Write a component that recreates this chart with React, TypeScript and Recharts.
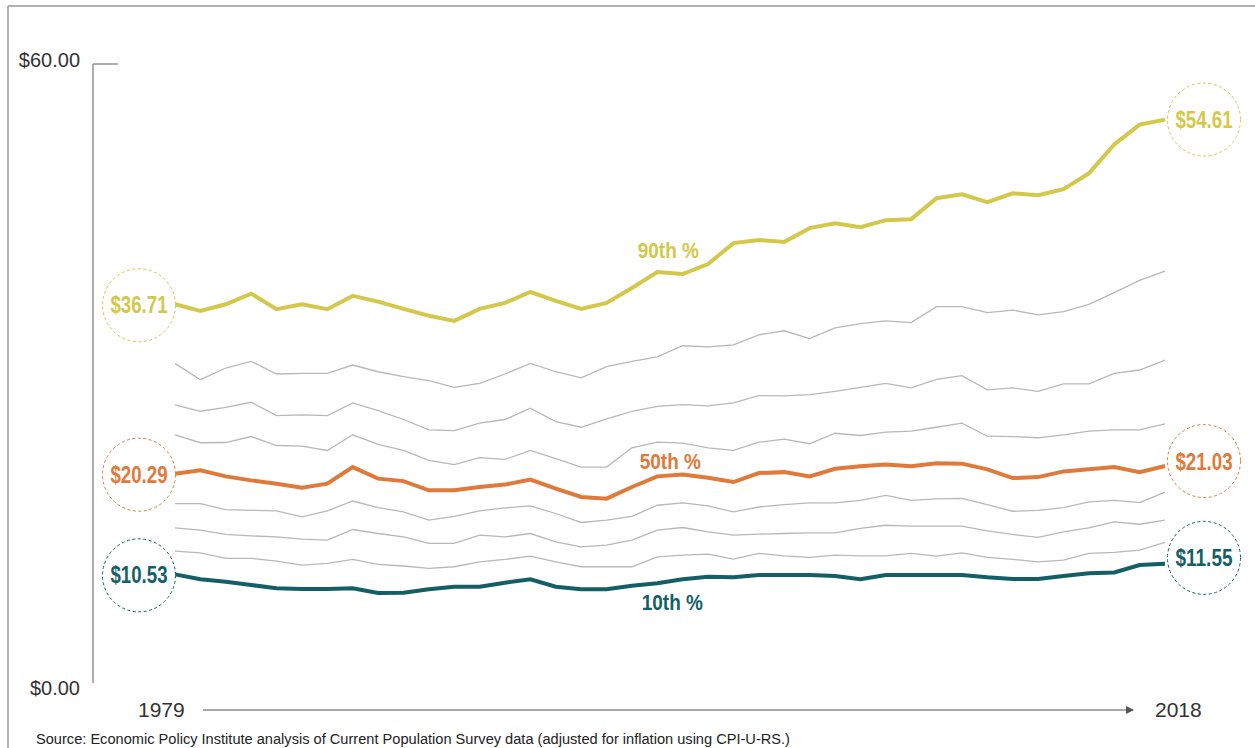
import { LineChart, Line, XAxis, YAxis } from "recharts";

const years = [
  1979, 1980, 1981, 1982, 1983, 1984, 1985, 1986, 1987, 1988,
  1989, 1990, 1991, 1992, 1993, 1994, 1995, 1996, 1997, 1998,
  1999, 2000, 2001, 2002, 2003, 2004, 2005, 2006, 2007, 2008,
  2009, 2010, 2011, 2012, 2013, 2014, 2015, 2016, 2017, 2018,
];

const p90 = [
  36.71, 36.07, 36.71, 37.74, 36.23, 36.71, 36.23, 37.52, 36.97, 36.26,
  35.6, 35.1, 36.26, 36.84, 37.9, 37.03, 36.26, 36.84, 38.29, 39.84,
  39.64, 40.61, 42.64, 42.93, 42.74, 44.09, 44.57, 44.19, 44.86, 44.96,
  46.99, 47.37, 46.6, 47.47, 47.28, 47.86, 49.4, 52.2, 54.13, 54.61,
];
const p80 = [
  30.98, 29.4, 30.53, 31.17, 29.95, 30.01, 30.01, 30.82, 30.17, 29.69,
  29.3, 28.66, 29.04, 29.95, 30.98, 30.17, 29.57, 30.66, 31.17, 31.62,
  32.69, 32.59, 32.78, 33.75, 34.14, 33.39, 34.43, 34.84, 35.1, 34.94,
  36.48, 36.48, 35.9, 36.14, 35.68, 36.0, 36.71, 37.84, 39.03, 39.93,
];
const p70 = [
  26.96, 26.34, 26.72, 27.21, 25.92, 25.99, 25.92, 27.15, 26.41, 25.54,
  24.54, 24.47, 25.18, 25.54, 26.63, 25.34, 24.79, 25.6, 26.34, 26.82,
  26.99, 26.86, 27.15, 27.86, 27.83, 27.95, 28.27, 28.66, 29.04, 28.6,
  29.43, 29.79, 28.41, 28.6, 28.27, 28.99, 28.99, 30.01, 30.34, 31.3,
];
const p60 = [
  24.06, 23.29, 23.31, 23.89, 23.02, 22.96, 22.54, 24.06, 23.12, 22.54,
  21.57, 21.16, 21.84, 21.67, 22.54, 21.74, 20.93, 20.93, 22.8, 23.34,
  23.25, 22.8, 22.54, 23.34, 23.63, 23.19, 24.21, 23.99, 24.31, 24.41,
  24.79, 25.18, 23.92, 23.89, 23.77, 24.06, 24.41, 24.54, 24.54, 25.12,
];
const p50 = [
  20.29, 20.61, 20.03, 19.64, 19.32, 18.94, 19.32, 20.93, 19.81, 19.57,
  18.68, 18.68, 19.0, 19.23, 19.71, 18.84, 18.03, 17.87, 19.0, 20.03,
  20.22, 19.9, 19.48, 20.35, 20.44, 20.03, 20.77, 21.0, 21.19, 21.02,
  21.31, 21.26, 20.71, 19.86, 19.96, 20.51, 20.71, 20.93, 20.44, 21.03,
];
const p40 = [
  17.39, 17.39, 16.81, 16.74, 16.68, 16.1, 16.68, 17.64, 17.0, 16.58,
  15.78, 16.16, 16.68, 16.97, 17.16, 16.43, 15.56, 15.78, 16.16, 17.23,
  17.45, 17.16, 16.58, 17.06, 17.29, 17.45, 17.45, 17.71, 18.19, 17.71,
  17.84, 17.9, 17.29, 16.65, 16.74, 17.0, 17.55, 17.71, 17.49, 18.51,
];
const p30 = [
  15.03, 14.81, 14.4, 14.26, 14.16, 13.94, 13.85, 14.88, 14.49, 14.16,
  13.53, 13.53, 14.33, 14.16, 14.49, 13.68, 13.2, 13.36, 13.85, 14.81,
  15.07, 14.65, 14.33, 14.43, 14.49, 14.55, 14.55, 14.98, 15.29, 15.2,
  15.2, 15.2, 14.74, 14.4, 14.11, 14.65, 15.03, 15.61, 15.39, 15.78,
];
const p20 = [
  12.78, 12.62, 12.08, 12.08, 11.82, 11.43, 11.59, 11.98, 11.5, 11.34,
  11.11, 11.27, 11.75, 11.98, 12.3, 11.75, 11.27, 11.27, 11.27, 12.23,
  12.4, 12.49, 12.01, 12.56, 12.33, 12.17, 12.4, 12.33, 12.33, 12.56,
  12.3, 12.62, 12.17, 11.98, 11.75, 11.91, 12.56, 12.66, 12.88, 13.62,
];
const p10 = [
  10.53, 10.05, 9.82, 9.5, 9.18, 9.11, 9.11, 9.18, 8.72, 8.75,
  9.08, 9.33, 9.33, 9.72, 10.05, 9.33, 9.08, 9.08, 9.43, 9.66,
  10.05, 10.3, 10.24, 10.46, 10.46, 10.46, 10.37, 10.05, 10.46, 10.46,
  10.46, 10.46, 10.24, 10.08, 10.08, 10.37, 10.63, 10.72, 11.43, 11.55,
];

const yTicks = [0, 60];

const data = years.map((year, i) => ({
  year,
  p10: p10[i],
  p20: p20[i],
  p30: p30[i],
  p40: p40[i],
  p50: p50[i],
  p60: p60[i],
  p70: p70[i],
  p80: p80[i],
  p90: p90[i],
}));

const YELLOW = "#d3c84a";
const ORANGE = "#e07a3a";
const TEAL = "#145f66";
const GRAY = "#b8b8b8";
const SANS = "'Liberation Sans', Arial, sans-serif";

const last = years.length - 1;

const p = (v: number) => v.toFixed(2);

// the fonts in the original are condensed; squeeze Liberation Sans to the same widths
const Narrow = ({ x, y, color, size, width, children }: any) => (
  <text
    x={x}
    y={y}
    textAnchor="middle"
    fill={color}
    fontFamily={SANS}
    fontWeight="bold"
    fontSize={size}
    textLength={width}
    lengthAdjust="spacingAndGlyphs"
  >
    {children}
  </text>
);

// labels for the highlighted percentiles: circle at each end, name in the middle
const makeLabel = (color: string, name: string, nameDx: number, nameDy: number, rightDy: number) =>
  (props: any) => {
    const { x, y, index } = props;
    if (index === 0) {
      const cx = x - 36;
      return (
        <g>
          <circle cx={cx} cy={y + 1} r={36.5} fill="#fff" stroke={color} strokeWidth={1} strokeDasharray="3 2.5" />
          <Narrow x={cx} y={y + 9} color={color} size={24} width={57}>{"$" + p(props.value)}</Narrow>
        </g>
      );
    }
    if (index === last) {
      const cx = x + 39;
      return (
        <g>
          <circle cx={cx} cy={y + rightDy} r={36.5} fill="#fff" stroke={color} strokeWidth={1} strokeDasharray="3 2.5" />
          <Narrow x={cx} y={y + rightDy + 8.5} color={color} size={24} width={57}>{"$" + p(props.value)}</Narrow>
        </g>
      );
    }
    if (index === 19) {
      return <Narrow x={x + nameDx} y={y + nameDy} color={color} size={22} width={61}>{name}</Narrow>;
    }
    return null;
  };

const YTick = (props: any) => {
  const { x, y, payload } = props;
  const top = payload.value === 60;
  return (
    <g>
      {top && <line x1={x} x2={x + 25} y1={y} y2={y} stroke="#777" strokeWidth={1.2} />}
      <text x={x - 13} y={top ? y + 3 : y + 12} textAnchor="end" fill="#333" fontFamily={SANS} fontSize={20}>
        {"$" + p(payload.value)}
      </text>
    </g>
  );
};

export default function App() {
  return (
    <div style={{ position: "absolute", left: 0, top: 0, width: 1255, height: 748, background: "#fff", overflow: "hidden" }}>
      <LineChart width={1255} height={748} data={data} margin={{ top: 64, right: 7, bottom: 65, left: 0 }}>
        <XAxis
          dataKey="year"
          type="number"
          domain={[1979, 2018]}
          padding={{ left: 82, right: 83 }}
          height={0}
          tick={false}
          tickLine={false}
          axisLine={{ stroke: "#777", strokeWidth: 1.2 }}
        />
        <YAxis
          domain={[0, 60]}
          ticks={yTicks}
          width={93}
          tickSize={0}
          tickMargin={0}
          tickLine={false}
          axisLine={{ stroke: "#777", strokeWidth: 1.2 }}
          tick={<YTick />}
        />
        {["p20", "p30", "p40", "p60", "p70", "p80"].map((k) => (
          <Line key={k} dataKey={k} stroke={GRAY} strokeWidth={1.3} dot={false} isAnimationActive={false} />
        ))}
        <Line dataKey="p90" stroke={YELLOW} strokeWidth={4} dot={false} isAnimationActive={false}
          label={makeLabel(YELLOW, "90th %", 11, -14, 0)} />
        <Line dataKey="p50" stroke={ORANGE} strokeWidth={4} dot={false} isAnimationActive={false}
          label={makeLabel(ORANGE, "50th %", 13, -7, -5)} />
        <Line dataKey="p10" stroke={TEAL} strokeWidth={4} dot={false} isAnimationActive={false}
          label={makeLabel(TEAL, "10th %", 15, 27, -6)} />
      </LineChart>
      <svg width={1255} height={748} style={{ position: "absolute", left: 0, top: 0, pointerEvents: "none" }}>
        <defs>
          <marker id="arr" markerWidth="8" markerHeight="8" refX="7" refY="4" orient="auto" markerUnits="userSpaceOnUse">
            <path d="M0,0 L8,4 L0,8 Z" fill="#555" />
          </marker>
        </defs>
        <line x1={8} x2={8} y1={6} y2={748} stroke="#999" strokeWidth={1.5} />
        <line x1={8} x2={1255} y1={6} y2={6} stroke="#999" strokeWidth={1.5} />
        <text x={138} y={717} fill="#333" fontFamily={SANS} fontSize={21}>1979</text>
        <line x1={203} x2={1133} y1={710} y2={710} stroke="#555" strokeWidth={1} markerEnd="url(#arr)" />
        <text x={1155} y={717} fill="#333" fontFamily={SANS} fontSize={21}>2018</text>
        <text x={36} y={744} fill="#222" fontFamily={SANS} fontSize={14} textLength={754} lengthAdjust="spacingAndGlyphs">
          Source: Economic Policy Institute analysis of Current Population Survey data (adjusted for inflation using CPI-U-RS.)
        </text>
      </svg>
    </div>
  );
}
